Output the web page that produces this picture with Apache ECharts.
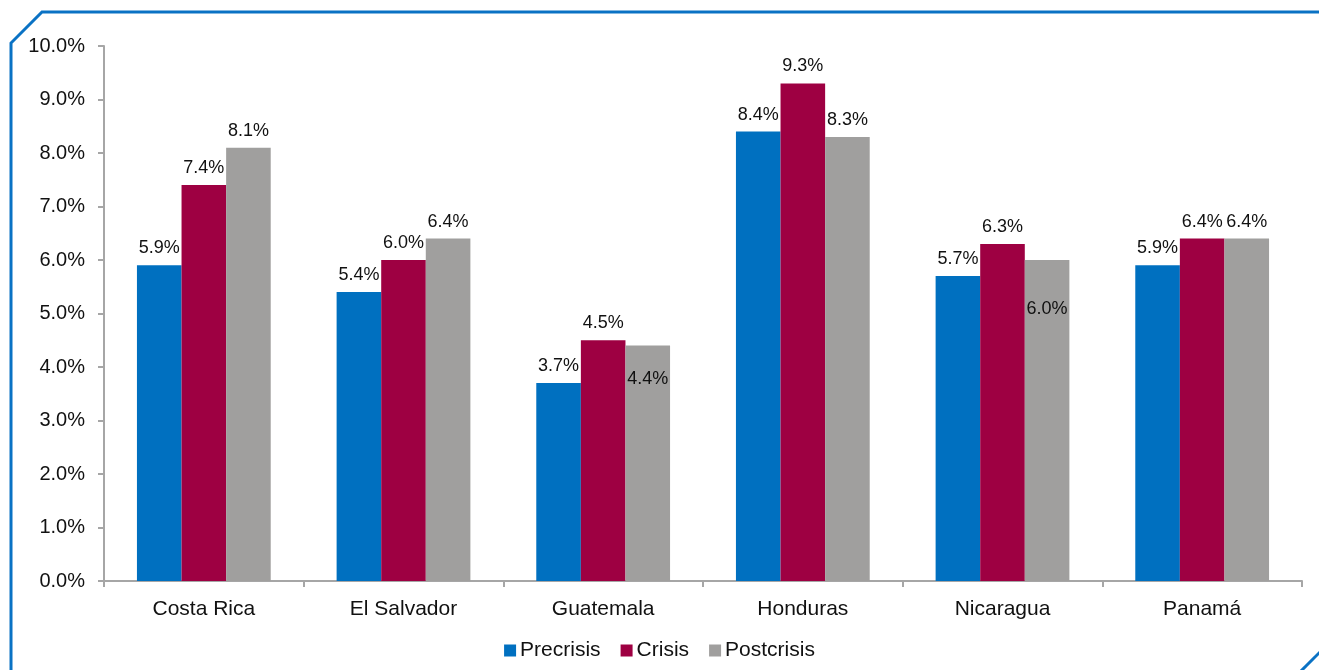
<!DOCTYPE html>
<html>
<head>
<meta charset="UTF-8">
<title>Chart</title>
<script src="https://cdn.jsdelivr.net/npm/echarts@6/dist/echarts.min.js"></script>
<style>
  html, body { margin: 0; padding: 0; background: #ffffff; }
  #chart { width: 1319px; height: 670px; }
</style>
</head>
<body>
<div id="chart"></div>
<script>
  // categories and series
  const countries = ['Costa Rica', 'El Salvador', 'Guatemala', 'Honduras', 'Nicaragua', 'Panamá'];
  const precrisis = [5.9, 5.4, 3.7, 8.4, 5.7, 5.9];
  const crisis = [7.4, 6.0, 4.5, 9.3, 6.3, 6.4];
  const postcrisis = [8.1, 6.4, 4.4, 8.3, 6.0, 6.4];
  const yTicks = [0, 1, 2, 3, 4, 5, 6, 7, 8, 9, 10];

  const font = 'Liberation Sans, Arial, sans-serif';

  // some postcrisis labels sit inside the bar in the original
  const insideLabel = { 2: 24, 4: 40 };

  function mk(name, arr, color) {
    return {
      name: name,
      type: 'bar',
      barGap: '0%',
      barCategoryGap: '33%',
      itemStyle: { color: color },
      label: {
        show: true, position: 'top', distance: 8,
        fontFamily: font, fontSize: 18, color: '#111111',
        formatter: p => p.value.toFixed(1) + '%'
      },
      data: arr.map((v, i) => {
        if (name === 'Postcrisis' && insideLabel[i] !== undefined) {
          return { value: v, label: { position: 'insideTop', distance: insideLabel[i] } };
        }
        return v;
      })
    };
  }

  const chart = echarts.init(document.getElementById('chart'));
  chart.setOption({
    animation: false,
    grid: { left: 104, right: 17, top: 46, bottom: 89 },
    legend: {
      bottom: 4, left: 'center',
      itemWidth: 12, itemHeight: 12, itemGap: 20,
      icon: 'rect',
      textStyle: { fontFamily: font, fontSize: 21, color: '#111111', padding: [0, 0, 0, -1] },
      data: ['Precrisis', 'Crisis', 'Postcrisis']
    },
    xAxis: {
      type: 'category',
      data: countries,
      axisLine: { lineStyle: { color: '#a6a6a6', width: 2 } },
      axisTick: { show: true, length: 6, lineStyle: { color: '#a6a6a6', width: 2 } },
      axisLabel: { fontFamily: font, fontSize: 21, color: '#111111', margin: 18 }
    },
    yAxis: {
      type: 'value',
      min: yTicks[0], max: yTicks[yTicks.length - 1], interval: 1,
      splitLine: { show: false },
      axisLine: { show: true, lineStyle: { color: '#a6a6a6', width: 2 } },
      axisTick: { show: true, length: 6, lineStyle: { color: '#a6a6a6', width: 2 } },
      axisLabel: { fontFamily: font, fontSize: 20, color: '#111111', margin: 19,
        formatter: v => v.toFixed(1) + '%' }
    },
    series: [
      mk('Precrisis', precrisis, '#0070c0'),
      mk('Crisis', crisis, '#9e0042'),
      mk('Postcrisis', postcrisis, '#a09f9e')
    ],
    graphic: [
      {
        type: 'polyline',
        shape: { points: [[11, 680], [11, 43], [42, 12], [1330, 12]] },
        style: { stroke: '#0a72c4', lineWidth: 3, fill: null }
      },
      {
        type: 'line',
        shape: { x1: 1300, y1: 672, x2: 1322, y2: 650 },
        style: { stroke: '#0a72c4', lineWidth: 3 }
      }
    ]
  });
</script>
</body>
</html>
